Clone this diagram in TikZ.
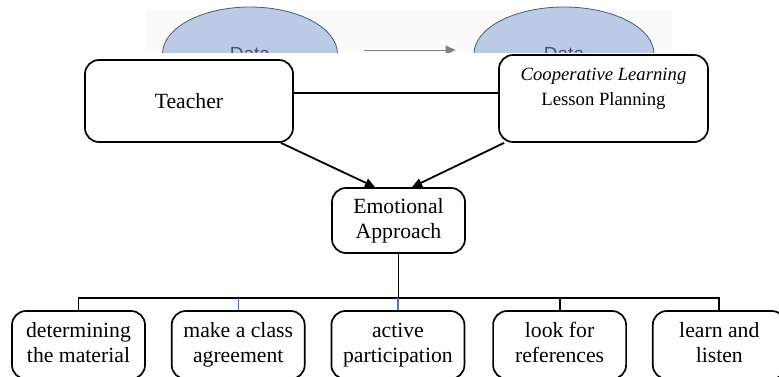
\documentclass[tikz,border=0pt]{standalone}
\usepackage{fontspec}
\setmainfont{Liberation Serif}
\newfontfamily\datafont{Liberation Sans}
\usepackage{tikz}
\usetikzlibrary{positioning,arrows.meta,shapes.geometric}
\definecolor{datafill}{RGB}{187,202,229}
\definecolor{dataline}{RGB}{80,90,110}
\definecolor{datatext}{RGB}{70,84,106}
\definecolor{dropblue}{RGB}{72,122,184}

\begin{document}
\begin{tikzpicture}[x=1pt,y=-1pt,>={Triangle[length=10pt,width=9pt]},
    box/.style={draw,line width=1.7pt,rounded corners=14pt,align=center,fill=white,
      font=\fontsize{21.7}{25}\selectfont},
    leaf/.style={box,minimum width=133pt,minimum height=68pt,text height=41pt,text depth=7pt},
    link/.style={line width=1.8pt}]
    \useasboundingbox (0,0) rectangle (779,376);
    \clip (0,0) rectangle (779,376);

    % what is left of the figure above
    \begin{scope}
      \clip (0,0) rectangle (779,52);
      \fill[gray!3] (145,9) rectangle (672,52);
      \node[ellipse,draw=dataline,line width=0.8pt,fill=datafill,minimum width=175pt,minimum height=94pt,
        font=\datafont\fontsize{19}{22}\selectfont,text=datatext] (dataA) at (250,54) {Data};
      \node[ellipse,draw=dataline,line width=0.8pt,fill=datafill,minimum width=180pt,minimum height=94pt,
        font=\datafont\fontsize{19}{22}\selectfont,text=datatext] (dataB) at (564,54) {Data};
      \draw[->,gray,line width=0.8pt,shorten <=26pt,shorten >=18pt] ([yshift=4pt]dataA.east) -- ([yshift=4pt]dataB.west);
    \end{scope}

    \node[box,minimum width=208pt,minimum height=82pt] (teacher) at (189,101) {Teacher};
    \node[box,minimum width=209pt,minimum height=87pt,font=\fontsize{18.7}{25}\selectfont,text depth=24pt]
      (plan) at (603.5,98.5) {\textit{Cooperative Learning}\\Lesson Planning};
    \node[box,minimum width=133pt,minimum height=65pt] (emo) at (398.5,220.5) {Emotional\\Approach};

    \draw[link] ([yshift=8pt]teacher.east) -- ([yshift=8pt]teacher.east -| plan.west);
    \draw[link,->] ([xshift=-13pt]teacher.south east) -- ([xshift=-23.5pt]emo.north);
    \draw[link,->] ([xshift=6pt]plan.south west) -- ([xshift=13.5pt]emo.north);

    % the five steps
    \node[leaf] (matl) at (78.5,345) {determining\\the material};
    \node[leaf,right=25pt of matl] (agree) {make a class\\agreement};
    \node[leaf,right=25pt of agree] (part) {active\\participation};
    \node[leaf,right=27pt of part] (refs) {look for\\references};
    \node[leaf,right=25pt of refs] (listen) {learn and\\listen};

    \coordinate[below=44pt of emo.south] (bus);
    \draw[link] (emo.south) -- (bus);
    \draw[link] (matl.north) -- (matl.north |- bus) -- (listen.north |- bus) -- (listen.north);
    \draw[link] (refs.north) -- (refs.north |- bus);
    \draw[dropblue,line width=1.2pt] (agree.north) -- (agree.north |- bus);
    \draw[dropblue,line width=1.2pt] (part.north) -- (part.north |- bus);
\end{tikzpicture}
\end{document}
